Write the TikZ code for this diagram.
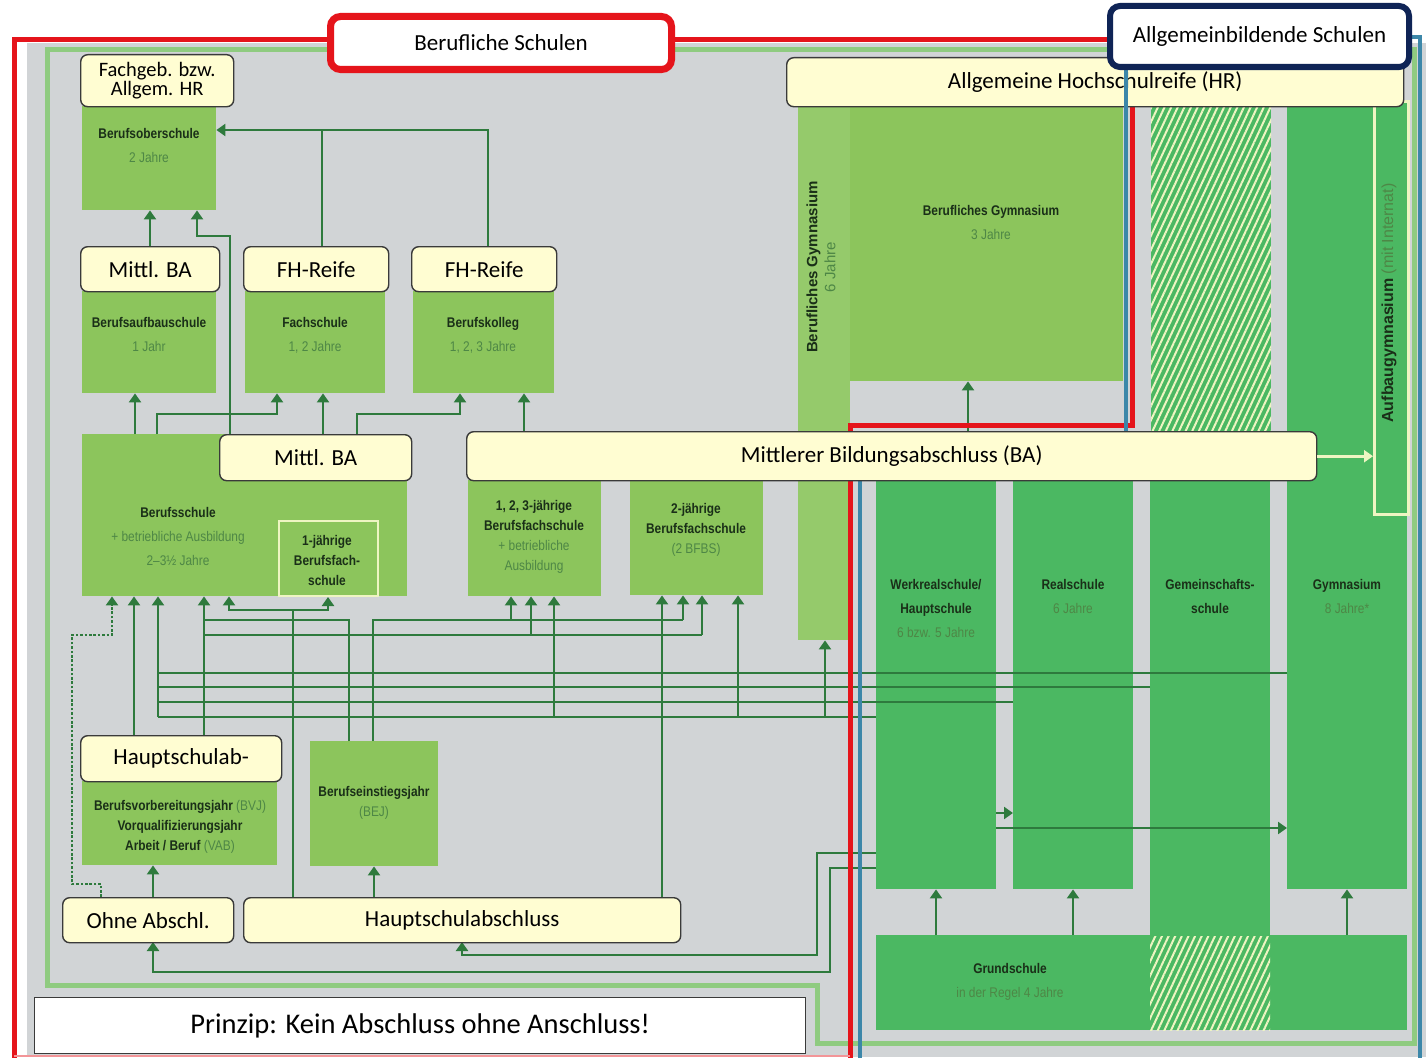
\documentclass[tikz,border=0pt]{standalone}
\usepackage{fontspec}
\setmainfont{Carlito}
\newfontfamily\nar[FakeStretch=0.85]{Liberation Sans}
\newfontfamily\wide{Liberation Sans}
\usetikzlibrary{arrows.meta,patterns.meta}
\definecolor{bggray}{HTML}{D1D4D6}
\definecolor{lgreen}{HTML}{8CC55C}
\definecolor{lgreenB}{HTML}{95CA6B}
\definecolor{dgreen}{HTML}{4BB862}
\definecolor{conn}{HTML}{2E7A3D}
\definecolor{frameg}{HTML}{8FCB80}
\definecolor{ylw}{HTML}{FFFDD2}
\definecolor{redf}{HTML}{E5141B}
\definecolor{bluef}{HTML}{3C87A9}
\definecolor{navy}{HTML}{0F2456}
\definecolor{subt}{HTML}{4E8746}
\definecolor{titt}{HTML}{1A2F18}
\definecolor{paleline}{HTML}{EEF5C2}
\definecolor{lblline}{HTML}{3A3A3A}
\newcommand\stx[1]{{\mdseries\color{subt}#1}}
\tikzset{
  bx/.style n args={4}{at={(#1,#2)}, anchor=north west, inner sep=0pt,
     minimum width={#3pt-#1pt}, minimum height={#4pt-#2pt}},
  lbl/.style={draw=lblline, line width=1.4pt, fill=ylw, rounded corners=7pt,
     font=\fontsize{23}{25}\selectfont, align=center, text=black},
  gb/.style={fill=lgreen},
  db/.style={fill=dgreen},
  gt/.style={anchor=north, inner sep=0pt, align=center, text=titt,
     font=\nar\bfseries\fontsize{14}{24}\selectfont},
  gtc/.style={gt, font=\nar\bfseries\fontsize{14}{20}\selectfont},
  cl/.style={draw=conn, line width=2.8pt},
  cn/.style={cl, -{Triangle[width=12pt,length=9pt]}},
  hatch/.style={pattern={Lines[angle=65,distance=6pt,line width=2pt]}, pattern color=paleline},
}
\begin{document}
\begin{tikzpicture}[x=1pt,y=-1pt]
\useasboundingbox (0,0) rectangle (1426,1057);
\fill[white] (0,0) rectangle (1426,1057);
\fill[bggray] (27,43) rectangle (1426,1057);
% light green frame of the vocational area
\draw[frameg, line width=5pt] (47,50) -- (1414,50) -- (1414,1043) -- (817,1043) -- (817,985) -- (47,985) -- cycle;

% vocational schools
\node[bx={82}{106}{216}{210}, gb] (bos) {};
\node[bx={82}{291}{216}{393}, gb] (bas) {};
\node[bx={245}{291}{385}{393}, gb] (fs) {};
\node[bx={413}{291}{554}{393}, gb] (bk) {};
\node[bx={82}{434}{407}{596}, gb] (bs) {};
\node[bx={278}{520}{377}{595}, gb, draw=paleline, line width=2pt] (bfs1) {};
\node[bx={468}{480}{601}{596}, gb] (bfs123) {};
\node[bx={630}{480}{763}{595}, gb] (bfs2) {};
\node[bx={798}{100}{850}{640}, fill=lgreenB] (bg6) {};
\node[bx={850}{100}{1123}{381}, gb] (bg3) {};
\node[bx={82}{781}{277}{865}, gb] (bvj) {};
\node[bx={310}{741}{438}{866}, gb] (bej) {};

% general schools
\node[bx={876}{470}{996}{889}, db] (wrs) {};
\node[bx={1013}{470}{1133}{889}, db] (rs) {};
\node[bx={1150}{470}{1270}{937}, db] (gms) {};
\node[bx={1287}{100}{1407}{889}, db] (gym) {};
\node[bx={876}{935}{1407}{1030}, db] (gs) {};
\node[bx={1150}{100}{1270}{430}, preaction={fill=dgreen}, hatch] (htop) {};
\node[bx={1150}{936}{1270}{1030}, preaction={fill=dgreen}, hatch] (hbot) {};
\node[bx={1373}{100}{1407}{513}, draw=paleline, line width=2.5pt] (agym) {};

% texts in green boxes
\node[gt] at (149,128) {Berufsoberschule\\\stx{2 Jahre}};
\node[gt] at (149,317) {Berufsaufbauschule\\\stx{1 Jahr}};
\node[gt] at (315,317) {Fachschule\\\stx{1, 2 Jahre}};
\node[gt] at (483,317) {Berufskolleg\\\stx{1, 2, 3 Jahre}};
\node[gt] at (178,507) {Berufsschule\\\stx{+ betriebliche Ausbildung}\\\stx{2–3½ Jahre}};
\node[gtc] at (327,535) {1-jährige\\Berufsfach-\\schule};
\node[gtc] at (534,500) {1, 2, 3-jährige\\Berufsfachschule\\\stx{+ betriebliche}\\\stx{Ausbildung}};
\node[gtc] at (696,503) {2-jährige\\Berufsfachschule\\\stx{(2 BFBS)}};
\node[gt] at (991,205) {Berufliches Gymnasium\\\stx{3 Jahre}};
\node[gtc] at (180,800) {Berufsvorbereitungsjahr \stx{(BVJ)}\\Vorqualifizierungsjahr\\Arbeit / Beruf \stx{(VAB)}};
\node[gtc] at (374,786) {Berufseinstiegsjahr\\\stx{(BEJ)}};
\node[gt] at (936,579) {Werkrealschule/\\Hauptschule\\\stx{6 bzw. 5 Jahre}};
\node[gt] at (1073,579) {Realschule\\\stx{6 Jahre}};
\node[gt] at (1210,579) {Gemeinschafts-\\schule};
\node[gt] at (1347,579) {Gymnasium\\\stx{8 Jahre*}};
\node[gt] at (1010,963) {Grundschule\\\stx{in der Regel 4 Jahre}};
\node[rotate=90, align=center, inner sep=0pt, text=titt, font=\wide\bfseries\fontsize{15}{18}\selectfont] at (821,267) {Berufliches Gymnasium\\\stx{6 Jahre}};
\node[rotate=90, inner sep=0pt, text=titt, font=\wide\fontsize{16}{18}\selectfont] at (1389,303) {\textbf{Aufbaugymnasium} \stx{(mit Internat)}};

% connectors, upper part
\draw[cn] (150,246) -- (bos.south -| 150,0);
\draw[cn] (230,434) -- (230,236) -- (197,236) -- (bos.south -| 197,0);
\draw[cl] (322,246) -- (322,130);
\draw[cn] (488,246) -- (488,130) -- (bos.east |- 0,130);
\draw[cn] (bs.north -| 135,0) -- (bas.south -| 135,0);
\draw[cn] (bs.north -| 157,0) -- (157,414) -- (277,414) -- (fs.south -| 277,0);
\draw[cn] (323,434) -- (fs.south -| 323,0);
\draw[cn] (357,434) -- (357,414) -- (460,414) -- (bk.south -| 460,0);
\draw[cn] (524,431) -- (bk.south -| 524,0);
\draw[cn] (968,431) -- (bg3.south -| 968,0);

% connectors, lower part
\draw[cn, dash pattern=on 2.6pt off 1.8pt] (101,897) -- (101,884) -- (72,884) -- (72,635) -- (112,635) -- (bs.south -| 112,0);
\draw[cn] (134,735) -- (bs.south -| 134,0);
\draw[cl] (gym.west |- 0,673) -- (158,673);
\draw[cl] (gms.west |- 0,687) -- (158,687);
\draw[cl] (rs.west |- 0,702) -- (158,702);
\draw[cl] (wrs.west |- 0,717) -- (158,717);
\draw[cn] (158,717) -- (bs.south -| 158,0);
\draw[cn] (554,717) -- (bfs123.south -| 554,0);
\draw[cn] (738,717) -- (bfs2.south -| 738,0);
\draw[cn] (825,717) -- (bg6.south -| 825,0);
\draw[cn] (204,735) -- (bs.south -| 204,0);
\draw[cl] (204,635) -- (702,635);
\draw[cn] (531,635) -- (bfs123.south -| 531,0);
\draw[cn] (702,635) -- (bfs2.south -| 702,0);
\draw[cl] (bej.north -| 349,0) -- (349,620) -- (204,620);
\draw[cl] (bej.north -| 373,0) -- (373,620) -- (683,620);
\draw[cn] (511,620) -- (bfs123.south -| 511,0);
\draw[cn] (683,620) -- (bfs2.south -| 683,0);
\draw[cl] (293,897) -- (293,610);
\draw[cn] (293,610) -- (229,610) -- (bs.south -| 229,0);
\draw[cn] (293,610) -- (328,610) -- (bfs1.south -| 328,0);
\draw[cn] (662,897) -- (bfs2.south -| 662,0);
\draw[cn] (153,897) -- (bvj.south -| 153,0);
\draw[cn] (374,897) -- (bej.south -| 374,0);
\draw[cn] (wrs.west |- 0,853) -- (817,853) -- (817,955) -- (462,955) -- (462,942);
\draw[cn] (wrs.west |- 0,868) -- (830,868) -- (830,972) -- (153,972) -- (153,942);
\draw[cn] (wrs.east |- 0,813) -- (rs.west |- 0,813);
\draw[cn] (wrs.east |- 0,828) -- (gym.west |- 0,828);
\draw[cn] (gs.north -| 936,0) -- (wrs.south -| 936,0);
\draw[cn] (gs.north -| 1073,0) -- (rs.south -| 1073,0);
\draw[cn] (gs.north -| 1347,0) -- (gym.south -| 1347,0);

% frames
\draw[redf, line width=5pt] (14,1060) -- (14,40) -- (1132,40) -- (1132,425) -- (850,425) -- (850,1060);
\draw[redf!45, line width=2pt] (14,1056) -- (850,1056);
\draw[bluef, line width=4.5pt] (860,1060) -- (860,455) -- (1126,455) -- (1126,37) -- (1420,37) -- (1420,1060);

% yellow labels
\node[bx={80}{54}{233}{106}, lbl, font=\fontsize{20.5}{17}\selectfont] (fhr) {Fachgeb. bzw.\\Allgem. HR};
\node[bx={80}{246}{219}{291}, lbl] (mba1) {Mittl. BA};
\node[bx={243}{246}{388}{291}, lbl] (fhr1) {FH-Reife};
\node[bx={411}{246}{556}{291}, lbl] (fhr2) {FH-Reife};
\node[bx={219}{434}{411}{480}, lbl] (mba2) {Mittl. BA};
\node[bx={466}{431}{1316}{480}, lbl] (ba) {Mittlerer Bildungsabschluss (BA)};
\node[bx={786}{57}{1403}{106}, lbl] (hr) {Allgemeine Hochschulreife (HR)};
\node[bx={80}{735}{281}{781}, lbl] (hsab) {Hauptschulab-};
\node[bx={62}{897}{233}{942}, lbl] (ohne) {Ohne Abschl.};
\node[bx={243}{897}{680}{942}, lbl] (hsa) {Hauptschulabschluss};
\draw[draw=paleline, line width=2.6pt, -{Triangle[width=12pt,length=9pt]}] (ba.east) -- (agym.west |- ba.east);
\draw[bluef, line width=4.5pt] (1126,50) -- (1126,110);

% headers and principle
\node[bx={34}{997}{805}{1053}, draw=lblline, line width=1.4pt, fill=white, font=\fontsize{28.5}{30}\selectfont] (pr) {Prinzip: Kein Abschluss ohne Anschluss!};
\node[bx={327}{13}{668}{66}, draw=redf, line width=7pt, fill=white, rounded corners=10pt, font=\fontsize{23}{25}\selectfont] (bsch) {Berufliche Schulen};
\node[bx={1107}{3}{1406}{64}, draw=navy, line width=6pt, fill=white, rounded corners=10pt, font=\fontsize{23}{25}\selectfont] (abs) {Allgemeinbildende Schulen};
\end{tikzpicture}
\end{document}
